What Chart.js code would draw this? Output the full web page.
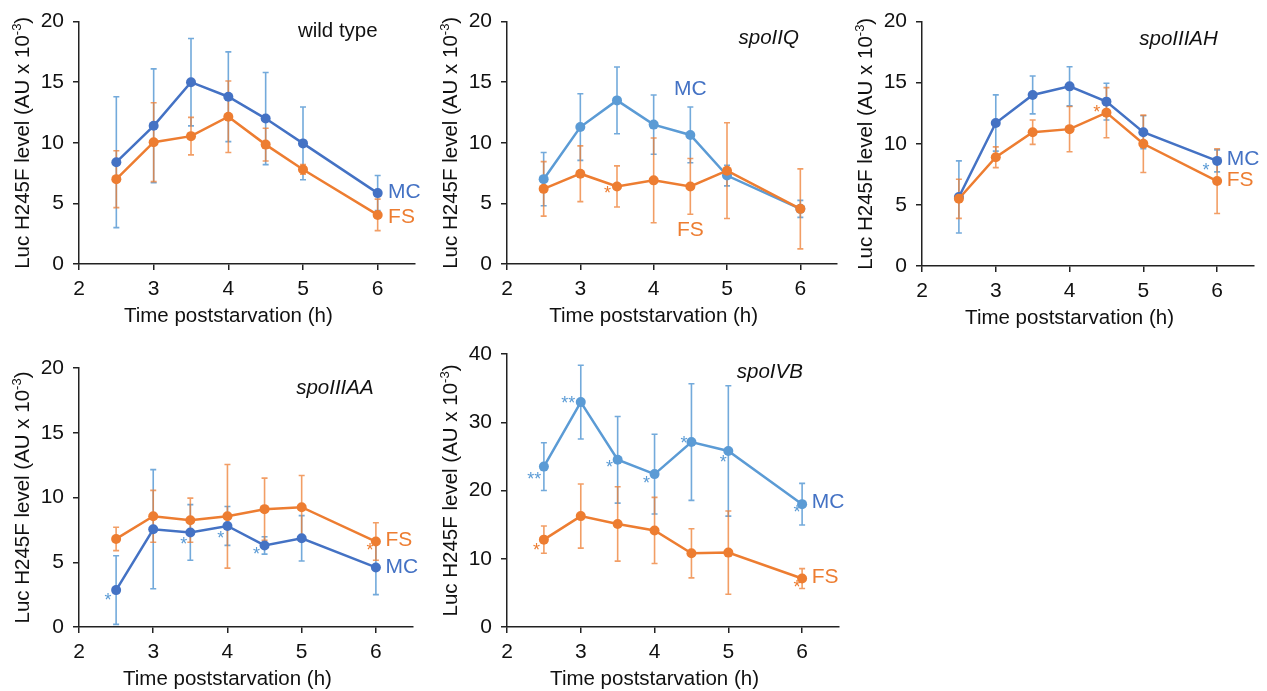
<!DOCTYPE html>
<html lang="en">
<head>
  <meta charset="UTF-8">
  <title>Luc H245F level in MC and FS</title>
  <script src="https://cdn.jsdelivr.net/npm/chart.js"></script>
  <style>
    html, body {
      margin: 0;
      padding: 0;
      background: #fff;
    }
    body {
      position: relative;
      width: 1267px;
      height: 691px;
      overflow: hidden;
    }
    .panel { position: absolute; }
  </style>
</head>
<body>
  <div class="panel" style="left:0;top:0;width:430px;height:330px"><canvas id="c0"></canvas></div>
  <div class="panel" style="left:430px;top:0;width:420px;height:330px"><canvas id="c1"></canvas></div>
  <div class="panel" style="left:850px;top:0;width:417px;height:330px"><canvas id="c2"></canvas></div>
  <div class="panel" style="left:0;top:330px;width:430px;height:361px"><canvas id="c3"></canvas></div>
  <div class="panel" style="left:430px;top:330px;width:420px;height:361px"><canvas id="c4"></canvas></div>

<script>
  // time points (h poststarvation)
  const hours = [2.5, 3, 3.5, 4, 4.5, 5, 6];
  const xTickValues = [2, 3, 4, 5, 6];

  // wild type
  const wtMC   = [8.4, 11.4, 15.0, 13.8, 12.0, 9.95, 5.85];
  const wtMCsd = [5.4, 4.7, 3.6, 3.7, 3.8, 3.0, 1.45];
  const wtFS   = [7.0, 10.05, 10.55, 12.15, 9.85, 7.8, 4.05];
  const wtFSsd = [2.35, 3.25, 1.55, 2.95, 1.35, 0.4, 1.3];

  // spoIIQ
  const iiqMC   = [7.0, 11.3, 13.5, 11.5, 10.65, 7.3, 4.55];
  const iiqMCsd = [2.2, 2.75, 2.75, 2.45, 2.3, 0.85, 0.7];
  const iiqFS   = [6.2, 7.45, 6.4, 6.9, 6.4, 7.7, 4.55];
  const iiqFSsd = [2.25, 2.3, 1.7, 3.5, 2.3, 3.95, 3.3];

  // spoIIIAH
  const ahMC   = [5.65, 11.7, 14.0, 14.7, 13.45, 10.95, 8.6];
  const ahMCsd = [2.95, 2.3, 1.55, 1.6, 1.5, 1.35, 0.9];
  const ahFS   = [5.5, 8.9, 10.95, 11.2, 12.55, 10.0, 6.95];
  const ahFSsd = [1.6, 0.85, 1.0, 1.85, 2.05, 2.35, 2.65];

  // spoIIIAA
  const aaMC   = [2.85, 7.55, 7.3, 7.8, 6.3, 6.85, 4.6];
  const aaMCsd = [2.65, 4.6, 2.15, 1.5, 0.67, 1.75, 2.1];
  const aaFS   = [6.8, 8.55, 8.25, 8.55, 9.1, 9.25, 6.6];
  const aaFSsd = [0.9, 2.0, 1.7, 4.0, 2.4, 2.45, 1.45];

  // spoIVB
  const ivbMC   = [23.5, 32.95, 24.5, 22.4, 27.1, 25.8, 18.0];
  const ivbMCsd = [3.5, 5.4, 6.35, 5.85, 8.55, 9.55, 3.05];
  const ivbFS   = [12.8, 16.25, 15.1, 14.15, 10.8, 10.9, 7.1];
  const ivbFSsd = [2.0, 4.7, 5.45, 4.85, 3.6, 6.1, 1.45];

  const panelNames = ['wild type', 'spoIIQ', 'spoIIIAH', 'spoIIIAA', 'spoIVB'];
  const xTitle = 'Time poststarvation (h)';

  const FONT = "'Liberation Sans', Arial, sans-serif";
  const DARK_BLUE = '#4472C4';
  const LIGHT_BLUE = '#5B9BD5';
  const ORANGE = '#ED7D31';
  const BLUE_ERR = 'rgba(91, 155, 213, 0.85)';
  const ORANGE_ERR = 'rgba(237, 125, 49, 0.75)';
  const INK = '#111';

  const panels = [
    {
      id: 'c0', mc: wtMC, mcSd: wtMCsd, fs: wtFS, fsSd: wtFSsd, yMax: 20, yStep: 5, mcLine: DARK_BLUE,
      box: { yw: 79, xh: 66, top: 15, right: 15 },
      name: { x: 6, y: 18.7, italic: false },
      tags: [['MC', 6.14, 5.9, 'left'], ['FS', 6.14, 3.9, 'left']],
      stars: []
    },
    {
      id: 'c1', mc: iiqMC, mcSd: iiqMCsd, fs: iiqFS, fsSd: iiqFSsd, yMax: 20, yStep: 5, mcLine: LIGHT_BLUE,
      box: { yw: 77, xh: 66, top: 11, right: 13 },
      name: { x: 5.98, y: 18.15, italic: true },
      tags: [['MC', 4.5, 14.45, 'center'], ['FS', 4.5, 2.8, 'center']],
      stars: [[3.37, 6.2, '*', ORANGE]]
    },
    {
      id: 'c2', mc: ahMC, mcSd: ahMCsd, fs: ahFS, fsSd: ahFSsd, yMax: 20, yStep: 5, mcLine: DARK_BLUE,
      box: { yw: 72, xh: 64, top: 10, right: 13 },
      name: { x: 6.01, y: 18.08, italic: true },
      tags: [['MC', 6.13, 8.7, 'left'], ['FS', 6.13, 7.0, 'left']],
      stars: [[4.37, 12.9, '*', ORANGE], [5.85, 8.2, '*', LIGHT_BLUE]]
    },
    {
      id: 'c3', mc: aaMC, mcSd: aaMCsd, fs: aaFS, fsSd: aaFSsd, yMax: 20, yStep: 5, mcLine: DARK_BLUE,
      box: { yw: 79, xh: 64, top: 38, right: 17 },
      name: { x: 5.97, y: 18.0, italic: true },
      tags: [['FS', 6.13, 6.7, 'left'], ['MC', 6.13, 4.6, 'left']],
      stars: [[2.39, 2.39, '*', LIGHT_BLUE], [3.41, 6.69, '*', LIGHT_BLUE], [3.91, 7.16, '*', LIGHT_BLUE],
              [4.39, 5.92, '*', LIGHT_BLUE], [5.92, 6.23, '*', ORANGE]]
    },
    {
      id: 'c4', mc: ivbMC, mcSd: ivbMCsd, fs: ivbFS, fsSd: ivbFSsd, yMax: 40, yStep: 10, mcLine: LIGHT_BLUE,
      box: { yw: 77, xh: 64, top: 24, right: 11 },
      name: { x: 6.01, y: 36.5, italic: true },
      tags: [['MC', 6.13, 18.3, 'left'], ['FS', 6.13, 7.35, 'left']],
      stars: [[2.37, 22.3, '**', LIGHT_BLUE], [2.83, 33.4, '**', LIGHT_BLUE], [3.39, 24.1, '*', LIGHT_BLUE],
              [3.89, 21.7, '*', LIGHT_BLUE], [4.4, 27.6, '*', LIGHT_BLUE], [4.93, 24.8, '*', LIGHT_BLUE],
              [5.93, 17.4, '*', LIGHT_BLUE], [2.4, 11.85, '*', ORANGE], [5.93, 6.46, '*', ORANGE]]
    }
  ];

  // vertical SD bars with small caps, drawn under the lines
  const errorBars = {
    id: 'errorBars',
    beforeDatasetsDraw(chart) {
      const ctx = chart.ctx;
      const y = chart.scales.y;
      ctx.save();
      ctx.lineWidth = 1.6;
      [1, 0].forEach(d => {
        const ds = chart.data.datasets[d];
        const meta = chart.getDatasetMeta(d);
        ctx.strokeStyle = ds.errColor;
        meta.data.forEach((pt, i) => {
          const v = ds.data[i].y, e = ds.sd[i];
          const top = y.getPixelForValue(v + e), bot = y.getPixelForValue(v - e);
          ctx.beginPath();
          ctx.moveTo(pt.x, top); ctx.lineTo(pt.x, bot);
          ctx.moveTo(pt.x - 3, top); ctx.lineTo(pt.x + 3, top);
          ctx.moveTo(pt.x - 3, bot); ctx.lineTo(pt.x + 3, bot);
          ctx.stroke();
        });
      });
      ctx.restore();
    }
  };

  function drawYTitle(ctx, cx, cy) {
    const main = 'Luc H245F level (AU x 10', sup = '-3', end = ')';
    const big = '20.5px ' + FONT, small = '13px ' + FONT;
    ctx.save();
    ctx.translate(cx, cy);
    ctx.rotate(-Math.PI / 2);
    ctx.fillStyle = INK;
    ctx.textBaseline = 'alphabetic';
    ctx.font = big;
    const w1 = ctx.measureText(main).width, w3 = ctx.measureText(end).width;
    ctx.font = small;
    const w2 = ctx.measureText(sup).width;
    let x = -(w1 + w2 + w3) / 2;
    ctx.font = big; ctx.fillText(main, x, 7.3); x += w1;
    ctx.font = small; ctx.fillText(sup, x, -1); x += w2;
    ctx.font = big; ctx.fillText(end, x, 7.3);
    ctx.restore();
  }

  function makeText(p, name) {
    return {
      id: 'panelText',
      afterDraw(chart) {
        const { ctx, chartArea: ca, scales: { x, y } } = chart;
        ctx.save();
        drawYTitle(ctx, ca.left - 57, (ca.top + ca.bottom) / 2);

        ctx.fillStyle = INK;
        ctx.font = '20.5px ' + FONT;
        ctx.textAlign = 'center';
        ctx.textBaseline = 'alphabetic';
        ctx.fillText(xTitle, x.getPixelForValue(4), ca.bottom + 57.5);

        ctx.font = (p.name.italic ? 'italic ' : '') + '20.5px ' + FONT;
        ctx.textAlign = 'right';
        ctx.fillText(name, x.getPixelForValue(p.name.x), y.getPixelForValue(p.name.y));

        ctx.font = '21px ' + FONT;
        ctx.textBaseline = 'middle';
        p.tags.forEach(([t, tx, ty, align]) => {
          ctx.fillStyle = t === 'MC' ? DARK_BLUE : ORANGE;
          ctx.textAlign = align;
          ctx.fillText(t, x.getPixelForValue(tx), y.getPixelForValue(ty));
        });

        ctx.font = '18px ' + FONT;
        ctx.textAlign = 'center';
        ctx.textBaseline = 'alphabetic';
        p.stars.forEach(([sx, sy, t, c]) => {
          ctx.fillStyle = c;
          ctx.fillText(t, x.getPixelForValue(sx), y.getPixelForValue(sy) + 10);
        });
        ctx.restore();
      }
    };
  }

  const axisCommon = {
    grid: { drawOnChartArea: false, drawTicks: true, tickLength: 6, color: '#222', lineWidth: 1.5 },
    border: { color: '#222', width: 1.5 }
  };

  panels.forEach((p, k) => {
    const pts = arr => hours.map((h, i) => ({ x: h, y: arr[i] }));
    new Chart(document.getElementById(p.id), {
      type: 'line',
      data: {
        datasets: [
          {
            label: 'FS', data: pts(p.fs), sd: p.fsSd, errColor: ORANGE_ERR,
            borderColor: ORANGE, backgroundColor: ORANGE, pointBackgroundColor: ORANGE,
            borderWidth: 2.5, pointRadius: 5, pointBorderWidth: 0, tension: 0
          },
          {
            label: 'MC', data: pts(p.mc), sd: p.mcSd, errColor: BLUE_ERR,
            borderColor: p.mcLine, backgroundColor: p.mcLine, pointBackgroundColor: p.mcLine,
            borderWidth: 2.5, pointRadius: 5, pointBorderWidth: 0, tension: 0
          }
        ]
      },
      options: {
        responsive: true,
        maintainAspectRatio: false,
        animation: false,
        layout: { autoPadding: false, padding: { top: p.box.top, right: p.box.right, left: 0, bottom: 0 } },
        plugins: { legend: { display: false }, tooltip: { enabled: false } },
        scales: {
          x: {
            ...axisCommon,
            type: 'linear', min: 2, max: 6.5,
            ticks: { color: INK, padding: 7, maxRotation: 0, autoSkip: false, font: { family: FONT, size: 21 } },
            afterBuildTicks: s => { s.ticks = xTickValues.map(v => ({ value: v })); },
            afterFit: s => { s.height = p.box.xh; }
          },
          y: {
            ...axisCommon,
            min: 0, max: p.yMax,
            ticks: { stepSize: p.yStep, color: INK, padding: 9, font: { family: FONT, size: 21 } },
            afterFit: s => { s.width = p.box.yw; }
          }
        }
      },
      plugins: [errorBars, makeText(p, panelNames[k])]
    });
  });
</script>
</body>
</html>
